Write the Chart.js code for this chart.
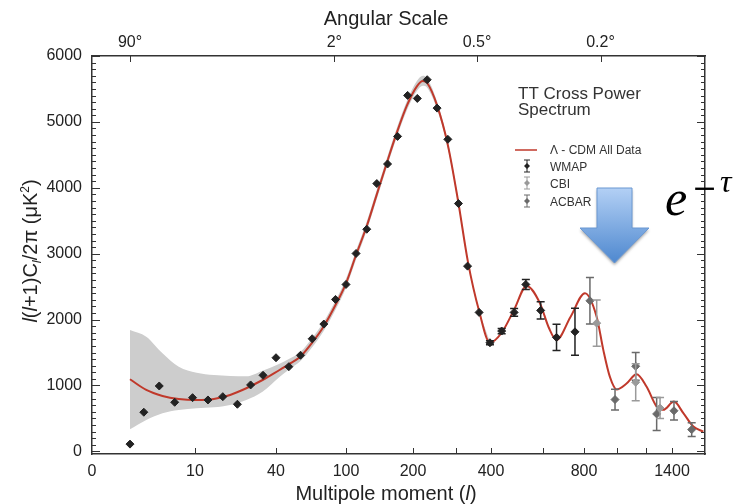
<!DOCTYPE html>
<html>
<head>
<meta charset="utf-8">
<script src="https://cdn.jsdelivr.net/npm/chart.js"></script>
<style>
  html, body { margin: 0; padding: 0; background: #fff; }
  #wrap { width: 739px; height: 504px; position: relative; }
</style>
</head>
<body>
<div id="wrap"><canvas id="myChart"></canvas></div>
<script>
// the multipole axis of the original is neither linear nor log:
// knots that map l to a position along the axis
var axisL   = [0, 2, 10, 40, 100, 200, 300, 400, 600, 800, 1000, 1200, 1400, 1700];
var axisPos = [0, 38, 103, 184, 254, 321, 364, 399, 451, 492, 525, 554, 580, 613];

var tickL = [0, 10, 40, 100, 200, 400, 800, 1400];
var minorTickL = [300, 600, 1000, 1200];
var angleL = [2, 90, 360, 900];
var angleLabels = ["90°", "2°", "0.5°", "0.2°"];
var yTicks = [0, 1000, 2000, 3000, 4000, 5000, 6000];

// Lambda-CDM best fit
var modelL = [2, 4, 6, 8, 10.6, 17, 23, 29, 35, 43, 51, 61, 71, 81, 91, 100, 115, 131, 146, 161,
  176, 191, 209, 223, 233, 256, 281, 306, 334, 366, 397, 441, 489, 537, 588, 628, 666, 734, 806, 877,
  917, 957, 998, 1066, 1135, 1205, 1282, 1333, 1418, 1503, 1594, 1685];
var modelY = [1094, 932, 841, 795, 780, 795, 856, 958, 1083, 1235, 1320, 1440, 1650, 1900, 2220, 2550, 2980, 3420, 3900, 4380,
  4840, 5250, 5540, 5620, 5590, 5250, 4650, 3800, 2880, 2130, 1650, 1800, 2150, 2510, 2250, 1880, 1690, 2040, 2400, 2040,
  1540, 1130, 940, 1030, 1170, 980, 680, 630, 755, 580, 376, 300];

// cosmic variance band
var bandL = [2, 4, 6, 8, 10.6, 17, 23, 29, 35, 43, 51, 61, 71, 81, 91, 100, 115, 131, 146, 161,
  176, 191, 209, 223, 233, 256, 281, 306, 334, 366, 397];
var bandLo = [336, 477, 579, 629, 654, 670, 705, 780, 906, 1130, 1240, 1370, 1580, 1830, 2150, 2480, 2910, 3350, 3830, 4310,
  4770, 5180, 5470, 5550, 5520, 5190, 4600, 3760, 2850, 2110, 1635];
var bandHi = [1841, 1740, 1488, 1285, 1194, 1159, 1144, 1140, 1224, 1330, 1400, 1510, 1720, 1970, 2290, 2620, 3050, 3490, 3970, 4450,
  4910, 5320, 5620, 5700, 5660, 5310, 4700, 3840, 2910, 2150, 1665];

var wmapL = [2, 3.7, 5.6, 7.5, 9.7, 14.8, 20.3, 25.7, 30.6, 35.2, 40, 51, 61, 71, 81, 91, 100, 115, 131, 146,
  162, 177, 192, 210, 233, 256, 281, 307, 333, 366, 397, 441, 489, 534, 591, 666, 756];
var wmapY = [110, 594, 992, 745, 815, 780, 830, 715, 1008, 1154, 1421, 1285, 1458, 1709, 1932, 2306, 2533, 3003, 3371, 4064,
  4361, 4780, 5402, 5356, 5640, 5209, 4735, 3761, 2811, 2109, 1648, 1826, 2109, 2533, 2139, 1730, 1814];
var wmapErr = [0, 0, 0, 0, 0, 0, 0, 0, 0, 0, 0, 0, 0, 0, 0, 0, 0, 0, 0, 0,
  0, 0, 0, 0, 0, 0, 0, 0, 0, 0, 30, 40, 60, 75, 130, 200, 356];

var cbiL = [877, 1129, 1308];
var cbiY = [1946, 1048, 658];
var cbiErr = [350, 280, 160];

var acbarL = [836, 988, 1129, 1282, 1418, 1579];
var acbarY = [2285, 786, 1291, 568, 616, 330];
var acbarErr = [353, 157, 210, 250, 140, 106];

function lToPos(l) {
  for (var i = 1; i < axisL.length; i++) {
    if (l <= axisL[i]) {
      var t = (l - axisL[i - 1]) / (axisL[i] - axisL[i - 1]);
      return axisPos[i - 1] + t * (axisPos[i] - axisPos[i - 1]);
    }
  }
  return axisPos[axisPos.length - 1];
}

function pts(ls, ys) {
  return ls.map(function (l, i) { return { x: lToPos(l), y: ys[i] }; });
}

var FONT = '"Liberation Sans", Arial, Helvetica, sans-serif';
Chart.defaults.font.family = FONT;
Chart.defaults.color = "#222";

// error bars, drawn just before each scatter dataset's markers
var errorBars = {
  id: "errorBars",
  beforeDatasetDraw: function (chart, args) {
    var ds = chart.data.datasets[args.index];
    if (!ds.errors) return;
    var c = chart.ctx, ys = chart.scales.y;
    c.save();
    c.strokeStyle = ds.borderColor;
    c.lineWidth = 1.5;
    c.beginPath();
    args.meta.data.forEach(function (pt, j) {
      var e = ds.errors[j];
      if (!e) return;
      var v = ds.data[j].y;
      var top = ys.getPixelForValue(v + e), bot = ys.getPixelForValue(v - e);
      c.moveTo(pt.x, top); c.lineTo(pt.x, bot);
      c.moveTo(pt.x - 4, top); c.lineTo(pt.x + 4, top);
      c.moveTo(pt.x - 4, bot); c.lineTo(pt.x + 4, bot);
    });
    c.stroke();
    c.restore();
  }
};

// tick marks pointing into the plot, plus titles, legend and the overlay
var decorations = {
  id: "decorations",
  afterDraw: function (chart) {
    var c = chart.ctx, a = chart.chartArea;
    var x = chart.scales.x, y = chart.scales.y;
    c.save();
    c.strokeStyle = "#333";
    c.lineWidth = 1;
    c.beginPath();
    for (var v = 0; v <= 6000; v += 100) {
      var py = Math.round(y.getPixelForValue(v)) + 0.5;
      var len = v % 1000 === 0 ? 8 : 4;
      c.moveTo(a.left, py); c.lineTo(a.left + len, py);
      c.moveTo(a.right, py); c.lineTo(a.right - len, py);
    }
    tickL.concat(minorTickL).forEach(function (l) {
      if (l === 0) return;
      var px = Math.round(x.getPixelForValue(lToPos(l))) + 0.5;
      c.moveTo(px, a.bottom); c.lineTo(px, a.bottom - 6);
    });
    angleL.forEach(function (l) {
      var px = Math.round(x.getPixelForValue(lToPos(l))) + 0.5;
      c.moveTo(px, a.top); c.lineTo(px, a.top + 6);
    });
    c.stroke();

    // axis titles
    c.fillStyle = "#222";
    c.textBaseline = "alphabetic";
    c.textAlign = "center";
    c.font = "20px " + FONT;
    c.fillText("Angular Scale", 386, 25);
    drawRich(c, [["Multipole moment (", ""], ["l", "italic "], [")", ""]], 386, 500, 20);

    c.save();
    c.translate(37, 251);
    c.rotate(-Math.PI / 2);
    drawRich(c, [["l", "italic "], ["(", ""], ["l", "italic "], ["+1)C", ""], ["l", "italic ", 13, 4],
      ["/2π (μK", ""], ["2", "", 12, -8], [")", ""]], 0, 0, 20);
    c.restore();

    // legend
    c.fillStyle = "#333";
    c.textAlign = "left";
    c.font = "17px " + FONT;
    c.fillText("TT Cross Power", 518, 99);
    c.fillText("Spectrum", 518, 115);
    c.font = "12px " + FONT;
    c.fillText("Λ - CDM All Data", 550, 154);
    c.fillText("WMAP", 550, 171);
    c.fillText("CBI", 550, 188);
    c.fillText("ACBAR", 550, 206);
    c.strokeStyle = "#c0392b";
    c.lineWidth = 1.5;
    c.beginPath(); c.moveTo(515, 150); c.lineTo(537, 150); c.stroke();
    [["#222", 166], ["#9a9a9a", 183], ["#6a6a6a", 201]].forEach(function (s) {
      c.strokeStyle = s[0]; c.fillStyle = s[0]; c.lineWidth = 1;
      c.beginPath();
      c.moveTo(527, s[1] - 6); c.lineTo(527, s[1] + 6);
      c.moveTo(524, s[1] - 6); c.lineTo(530, s[1] - 6);
      c.moveTo(524, s[1] + 6); c.lineTo(530, s[1] + 6);
      c.stroke();
      c.beginPath();
      c.moveTo(527, s[1] - 3); c.lineTo(530, s[1]); c.lineTo(527, s[1] + 3); c.lineTo(524, s[1]);
      c.closePath(); c.fill();
    });

    // blue arrow
    var g = c.createLinearGradient(0, 188, 0, 263);
    g.addColorStop(0, "#b3d0f5");
    g.addColorStop(1, "#4e88cf");
    c.save();
    c.shadowColor = "rgba(0,0,0,0.35)";
    c.shadowBlur = 3;
    c.shadowOffsetY = 2;
    c.beginPath();
    c.moveTo(597, 188); c.lineTo(632, 188); c.lineTo(632, 228); c.lineTo(649, 228);
    c.lineTo(614.5, 263); c.lineTo(580, 228); c.lineTo(597, 228);
    c.closePath();
    c.fillStyle = g;
    c.fill();
    c.restore();
    c.strokeStyle = "#6b98d2";
    c.lineWidth = 1;
    c.stroke();

    // e^-tau
    c.fillStyle = "#000";
    c.font = 'italic 50px "Liberation Serif", "Times New Roman", serif';
    c.fillText("e", 665, 215);
    c.font = '30px "DejaVu Serif", serif';
    c.fillText("−", 692, 198);
    c.font = 'italic 32px "Liberation Serif", "Times New Roman", serif';
    c.fillText("τ", 720, 192);
    c.restore();
  }
};

// text with mixed italic / sub / superscript pieces, centred on (cx, baseline)
function drawRich(c, parts, cx, by, size) {
  var widths = parts.map(function (p) {
    c.font = p[1] + (p[2] || size) + "px " + FONT;
    return c.measureText(p[0]).width;
  });
  var total = widths.reduce(function (s, w) { return s + w; }, 0);
  var px = cx - total / 2;
  c.textAlign = "left";
  parts.forEach(function (p, i) {
    c.font = p[1] + (p[2] || size) + "px " + FONT;
    c.fillText(p[0], px, by + (p[3] || 0));
    px += widths[i];
  });
  c.textAlign = "center";
}

var canvas = document.getElementById("myChart");
var tickFont = { size: 16, family: FONT };

var myChart = new Chart(canvas, {
  type: "scatter",
  data: {
    datasets: [
      {
        label: "WMAP",
        data: pts(wmapL, wmapY),
        errors: wmapErr,
        pointStyle: "rectRot",
        pointRadius: 4,
        backgroundColor: "#222",
        borderColor: "#222",
        borderWidth: 1,
        order: 1,
      },
      {
        label: "CBI",
        data: pts(cbiL, cbiY),
        errors: cbiErr,
        pointStyle: "rectRot",
        pointRadius: 4,
        backgroundColor: "#9a9a9a",
        borderColor: "#9a9a9a",
        borderWidth: 1,
        order: 1,
      },
      {
        label: "ACBAR",
        data: pts(acbarL, acbarY),
        errors: acbarErr,
        pointStyle: "rectRot",
        pointRadius: 4,
        backgroundColor: "#6a6a6a",
        borderColor: "#6a6a6a",
        borderWidth: 1,
        order: 1,
      },
      {
        label: "Λ - CDM All Data",
        type: "line",
        data: pts(modelL, modelY),
        borderColor: "#c0392b",
        borderWidth: 2,
        pointRadius: 0,
        cubicInterpolationMode: "monotone",
        fill: false,
        order: 2,
      },
      {
        label: "band high",
        type: "line",
        data: pts(bandL, bandHi),
        borderColor: "rgba(0,0,0,0)",
        borderWidth: 0,
        pointRadius: 0,
        cubicInterpolationMode: "monotone",
        backgroundColor: "#cdcdcd",
        fill: "+1",
        order: 3,
      },
      {
        label: "band low",
        type: "line",
        data: pts(bandL, bandLo),
        borderColor: "rgba(0,0,0,0)",
        borderWidth: 0,
        pointRadius: 0,
        cubicInterpolationMode: "monotone",
        fill: false,
        order: 3,
      },
    ],
  },
  options: {
    responsive: true,
    maintainAspectRatio: false,
    animation: false,
    layout: { padding: 0 },
    plugins: { legend: { display: false }, tooltip: { enabled: false } },
    scales: {
      x: {
        type: "linear",
        position: "bottom",
        min: 0,
        max: axisPos[axisPos.length - 1],
        afterBuildTicks: function (s) { s.ticks = tickL.map(function (l) { return { value: lToPos(l) }; }); },
        afterFit: function (s) { s.height = 50; },
        ticks: {
          callback: function (v, i) { return String(tickL[i]); },
          autoSkip: false, maxRotation: 0, padding: 8, font: tickFont, color: "#222",
        },
        grid: { display: false, drawTicks: false },
        border: { color: "#333", width: 1.5 },
      },
      xTop: {
        type: "linear",
        position: "top",
        min: 0,
        max: axisPos[axisPos.length - 1],
        afterBuildTicks: function (s) { s.ticks = angleL.map(function (l) { return { value: lToPos(l) }; }); },
        afterFit: function (s) { s.height = 56; },
        ticks: {
          callback: function (v, i) { return angleLabels[i]; },
          autoSkip: false, maxRotation: 0, padding: 4, font: tickFont, color: "#222",
        },
        grid: { display: false, drawTicks: false },
        border: { color: "#333", width: 1.5 },
      },
      y: {
        position: "left",
        min: -40,
        max: 6000,
        afterBuildTicks: function (s) { s.ticks = yTicks.map(function (v) { return { value: v }; }); },
        afterFit: function (s) { s.width = 92; },
        ticks: {
          callback: function (v) { return String(v); },
          padding: 10, font: tickFont, color: "#222",
        },
        grid: { display: false, drawTicks: false },
        border: { color: "#333", width: 1.5 },
      },
      yRight: {
        position: "right",
        min: -40,
        max: 6000,
        afterFit: function (s) { s.width = 34; },
        ticks: { display: false },
        grid: { display: false, drawTicks: false },
        border: { color: "#333", width: 1.5 },
      },
    },
  },
  plugins: [errorBars, decorations],
});
</script>
</body>
</html>
